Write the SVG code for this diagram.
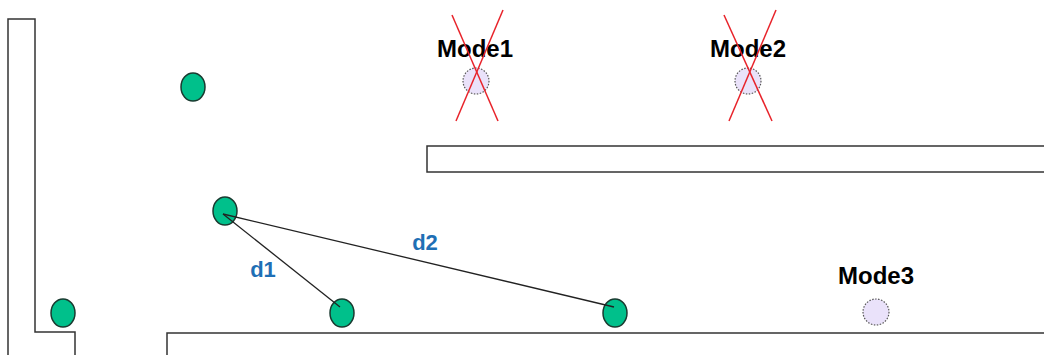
<svg xmlns="http://www.w3.org/2000/svg" width="1044" height="355" viewBox="0 0 1044 355">
<style>
.wall{fill:none;stroke:#333;stroke-width:1.5}
.node{fill:#00C08B;stroke:#1a3a30;stroke-width:1.5}
.mode{fill:#EAE2FA;stroke:#555;stroke-width:1.2;stroke-dasharray:1.5 1.5}
.lbl{font-family:"Liberation Sans",Arial,sans-serif;font-weight:bold;font-size:24px;fill:#000;text-anchor:middle}
.dl{font-family:"Liberation Sans",Arial,sans-serif;font-weight:bold;font-size:22px;fill:#1F6FB5;text-anchor:middle}
.x{stroke:#E8232A;stroke-width:1.5}
.conn{stroke:#222;stroke-width:1.3}
</style>
<rect width="1044" height="355" fill="#fff"/>
<g id="walls">
<polyline class="wall" points="8,356 8,19 35,19 35,332 75,332 75,356"/>
<polyline class="wall" points="167,356 167,333 1045,333"/>
<rect class="wall" x="427" y="146" width="620" height="26"/>
</g>
<g id="n1"><ellipse class="node" cx="193" cy="87" rx="12" ry="14"/></g>
<g id="n2"><ellipse class="node" cx="63" cy="313" rx="12" ry="14"/></g>
<g id="n3"><ellipse class="node" cx="225" cy="211" rx="12" ry="14"/></g>
<g id="n4"><ellipse class="node" cx="342" cy="313" rx="12" ry="14"/></g>
<g id="n5"><ellipse class="node" cx="615" cy="313" rx="12" ry="14"/></g>
<g id="connectors">
<line class="conn" x1="223" y1="214" x2="340" y2="307"/>
<line class="conn" x1="223" y1="214" x2="614" y2="307"/>
<text class="dl" x="263" y="277">d1</text>
<text class="dl" x="425" y="250">d2</text>
</g>
<g id="mode1">
<text class="lbl" x="475" y="57">Mode1</text>
<circle class="mode" cx="476" cy="81" r="13"/>
<line class="x" x1="452" y1="15" x2="498" y2="121"/>
<line class="x" x1="503" y1="10" x2="456" y2="121"/>
</g>
<g id="mode2">
<text class="lbl" x="748" y="57">Mode2</text>
<circle class="mode" cx="748" cy="81" r="13"/>
<line class="x" x1="724" y1="15" x2="772" y2="121"/>
<line class="x" x1="776" y1="10" x2="729" y2="121"/>
</g>
<g id="mode3">
<text class="lbl" x="876" y="284">Mode3</text>
<circle class="mode" cx="876" cy="312" r="13"/>
</g>
</svg>
